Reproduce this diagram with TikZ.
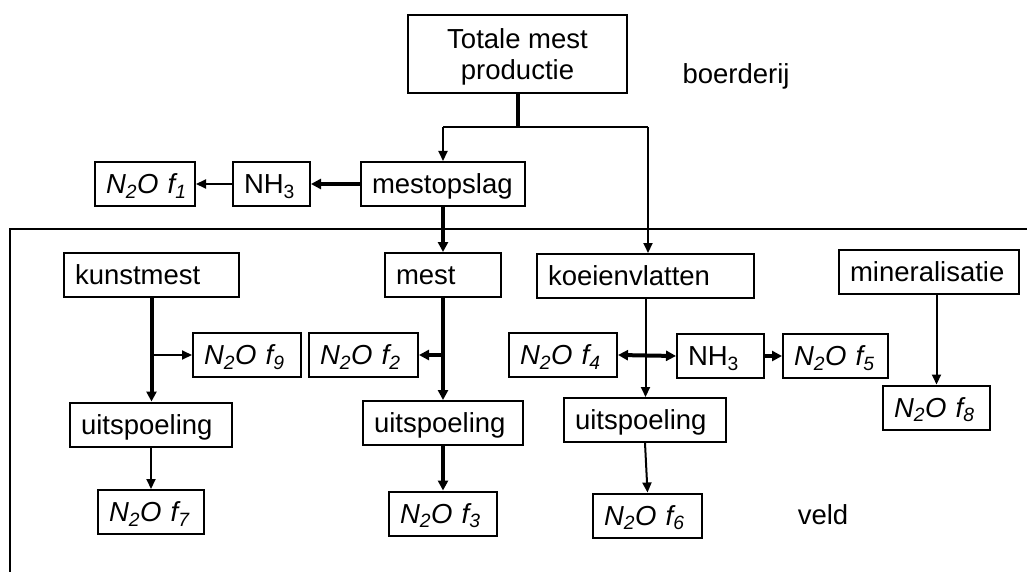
\documentclass[tikz,border=0pt]{standalone}
\usepackage{fontspec}
\setmainfont{Liberation Sans}
\usetikzlibrary{arrows.meta}

\newcommand{\NtweeO}[1]{\mbox{\textit{N\textsubscript{2}O f\textsubscript{#1}}}}

\begin{document}
\begin{tikzpicture}[x=1pt,y=-1pt,
  font=\fontsize{27.5}{31}\selectfont,
  blok/.style={draw,line width=2pt,align=left,inner xsep=11pt,inner ysep=0pt,
    text width=#1,text height=22pt,text depth=3pt,minimum height=44pt},
  dun/.style={line width=2pt,-{Triangle[length=10pt,width=9pt]}},
  dik/.style={line width=4pt,-{Triangle[length=10pt,width=10pt]}},
  dubbel/.style={line width=4pt,{Triangle[length=10pt,width=10pt]}-{Triangle[length=10pt,width=10pt]}}]

\useasboundingbox (0,0) rectangle (1027,572);

% veld
\draw[line width=2pt] (1027,229) -| (10,572);

% boerderij
\node[draw,line width=2pt,align=center,minimum width=219pt,minimum height=78pt,
  text height=53pt,text depth=2pt] (tot) at (517.5,54) {Totale mest\\productie};
\node[blok=142pt] (opslag) at (443,184) {mestopslag};
\node[blok=55pt] (nhA) at (271.5,184) {NH\textsubscript{3}};
\node[blok=78pt] (fA) at (145,184) {\NtweeO{1}};
\node (boerderij) at (736,76) {boerderij};

\node[blok=153pt] (kunst) at (151.5,275) {kunstmest};
\node[blok=94pt] (mest) at (443,275) {mest};
\node[blok=195pt] (koeien) at (645.5,276) {koeienvlatten};
\node[blok=158pt] (mineral) at (929,271.5) {mineralisatie};

\node[blok=86pt] (fNegen) at (247,355) {\NtweeO{9}};
\node[blok=87pt] (fTwee) at (363.5,355) {\NtweeO{2}};
\node[blok=86pt] (fVier) at (563,355) {\NtweeO{4}};
\node[blok=65pt] (nhB) at (720.5,356) {NH\textsubscript{3}};
\node[blok=83pt] (fVijf) at (835.5,356) {\NtweeO{5}};

\node[blok=140pt] (uitA) at (151,424.5) {uitspoeling};
\node[blok=138pt] (uitB) at (443,423) {uitspoeling};
\node[blok=140pt] (uitC) at (645,420) {uitspoeling};
\node[blok=85pt] (fAcht) at (936.5,407.5) {\NtweeO{8}};

\node[blok=84pt] (fZeven) at (151,512) {\NtweeO{7}};
\node[blok=86pt] (fDrie) at (443,513.5) {\NtweeO{3}};
\node[blok=87pt] (fZes) at (647.5,515.5) {\NtweeO{6}};
\node (veld) at (823,515) {veld};

\coordinate (splits) at (tot.south |- 0,127);
\coordinate (splitL) at (opslag.north |- splits);
\coordinate (splitR) at (648,127);
\draw[line width=4pt] (tot.south) -- (splits);
\draw[line width=2pt] (splitL) -- (splitR);
\draw[dun] (splitL) -- (opslag.north);
\draw[dun] (splitR) -- (splitR |- koeien.north);

\draw[dik] (opslag.west) -- (nhA.east);
\draw[dun] (nhA.west) -- (fA.east);
\draw[dik] (opslag.south) -- (mest.north);

\coordinate (kunstTak) at (kunst.south |- fNegen.west);
\draw[dik] (kunst.south) -- (kunst.south |- uitA.north);
\draw[dun] (kunstTak) -- (fNegen.west);
\draw[dun] (uitA.south) -- (fZeven.north);

\coordinate (mestTak) at (mest.south |- fTwee.east);
\draw[dik] (mest.south) -- (uitB.north);
\draw[dik] (mestTak) -- (fTwee.east);
\draw[dik] (uitB.south) -- (fDrie.north);

\draw[dun] (koeien.south) -- (koeien.south |- uitC.north);
\draw[dubbel] (fVier.east) -- (nhB.west);
\draw[dik] (nhB.east) -- (fVijf.west);
\draw[dun] (uitC.south) -- (fZes.north);

\draw[dun] (fAcht.north |- mineral.south) -- (fAcht.north);

\end{tikzpicture}
\end{document}
